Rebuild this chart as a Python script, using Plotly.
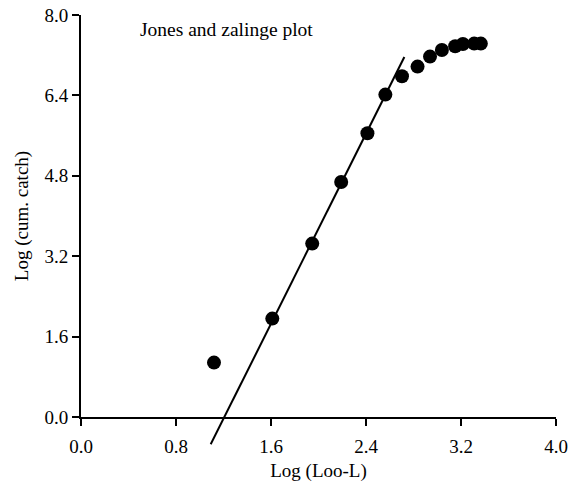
import plotly.graph_objects as go

# Data
x_vals = [1.120, 1.611, 1.947, 2.191, 2.412, 2.563, 2.703, 2.834, 2.939, 3.039, 3.151, 3.216, 3.311, 3.367]
y_vals = [1.083, 1.958, 3.451, 4.677, 5.646, 6.416, 6.780, 6.973, 7.172, 7.303, 7.377, 7.423, 7.431, 7.431]

# Fitted regression line end points
fit_x = [1.092, 2.723]
fit_y = [-0.543, 7.164]

x_ticks = [0.0, 0.8, 1.6, 2.4, 3.2, 4.0]
y_ticks = [0.0, 1.6, 3.2, 4.8, 6.4, 8.0]

title_text = "Jones and zalinge plot"
x_title = "Log (Loo-L)"
y_title = "Log (cum. catch)"

FONT = "Liberation Serif, Times New Roman, serif"
FS = 19

W, H = 568, 484
m_l, m_r, m_t, m_b = 81, 12, 15, 37
plot_h = H - m_t - m_b
y0_px_from_bottom = 30  # axis line sits this far above plot-area bottom
dom0 = y0_px_from_bottom / plot_h
px_per_unit = (plot_h - y0_px_from_bottom) / 8.0
y2_min = -y0_px_from_bottom / px_per_unit

fig = go.Figure()

fig.add_trace(go.Scatter(
    x=fit_x, y=fit_y, mode="lines",
    line=dict(color="black", width=2),
    xaxis="x2", yaxis="y2", showlegend=False, hoverinfo="skip"))

fig.add_trace(go.Scatter(
    x=x_vals, y=y_vals, mode="markers",
    marker=dict(color="black", size=14, line=dict(width=0)),
    showlegend=False))

axis_common = dict(
    showline=True, linecolor="black", linewidth=2,
    ticks="outside", ticklen=7, tickwidth=2, tickcolor="black",
    showgrid=False, zeroline=False, tickformat=".1f",
    ticklabeloverflow="allow",
    tickfont=dict(family=FONT, size=FS, color="black"),
)

fig.update_layout(
    width=W, height=H,
    margin=dict(l=m_l, r=m_r, t=m_t, b=m_b, autoexpand=False),
    paper_bgcolor="white", plot_bgcolor="rgba(0,0,0,0)",
    font=dict(family=FONT, size=FS, color="black"),
    xaxis=dict(range=[0, 4.0], tickvals=x_ticks, domain=[0, 1], anchor="y",
               ticklabelstandoff=4,
               title=dict(text=x_title, font=dict(family=FONT, size=FS), standoff=8),
               **axis_common),
    yaxis=dict(range=[0, 8.0], tickvals=y_ticks, domain=[dom0, 1], anchor="x",
               title=dict(text=y_title, font=dict(family=FONT, size=FS), standoff=11),
               **axis_common),
    xaxis2=dict(range=[0, 4.0], domain=[0, 1], anchor="y2", visible=False),
    yaxis2=dict(range=[y2_min, 8.0], domain=[0, 1], anchor="x2", visible=False),
    annotations=[dict(
        x=0.48, y=7.72, xref="x", yref="y", text=title_text, showarrow=False,
        xanchor="left", yanchor="middle",
        font=dict(family=FONT, size=19.5, color="black"))],
)

fig.write_html(
    "out.html",
    config={"displayModeBar": False},
    post_script="document.body.style.margin='0px';document.body.style.overflow='hidden';",
)
